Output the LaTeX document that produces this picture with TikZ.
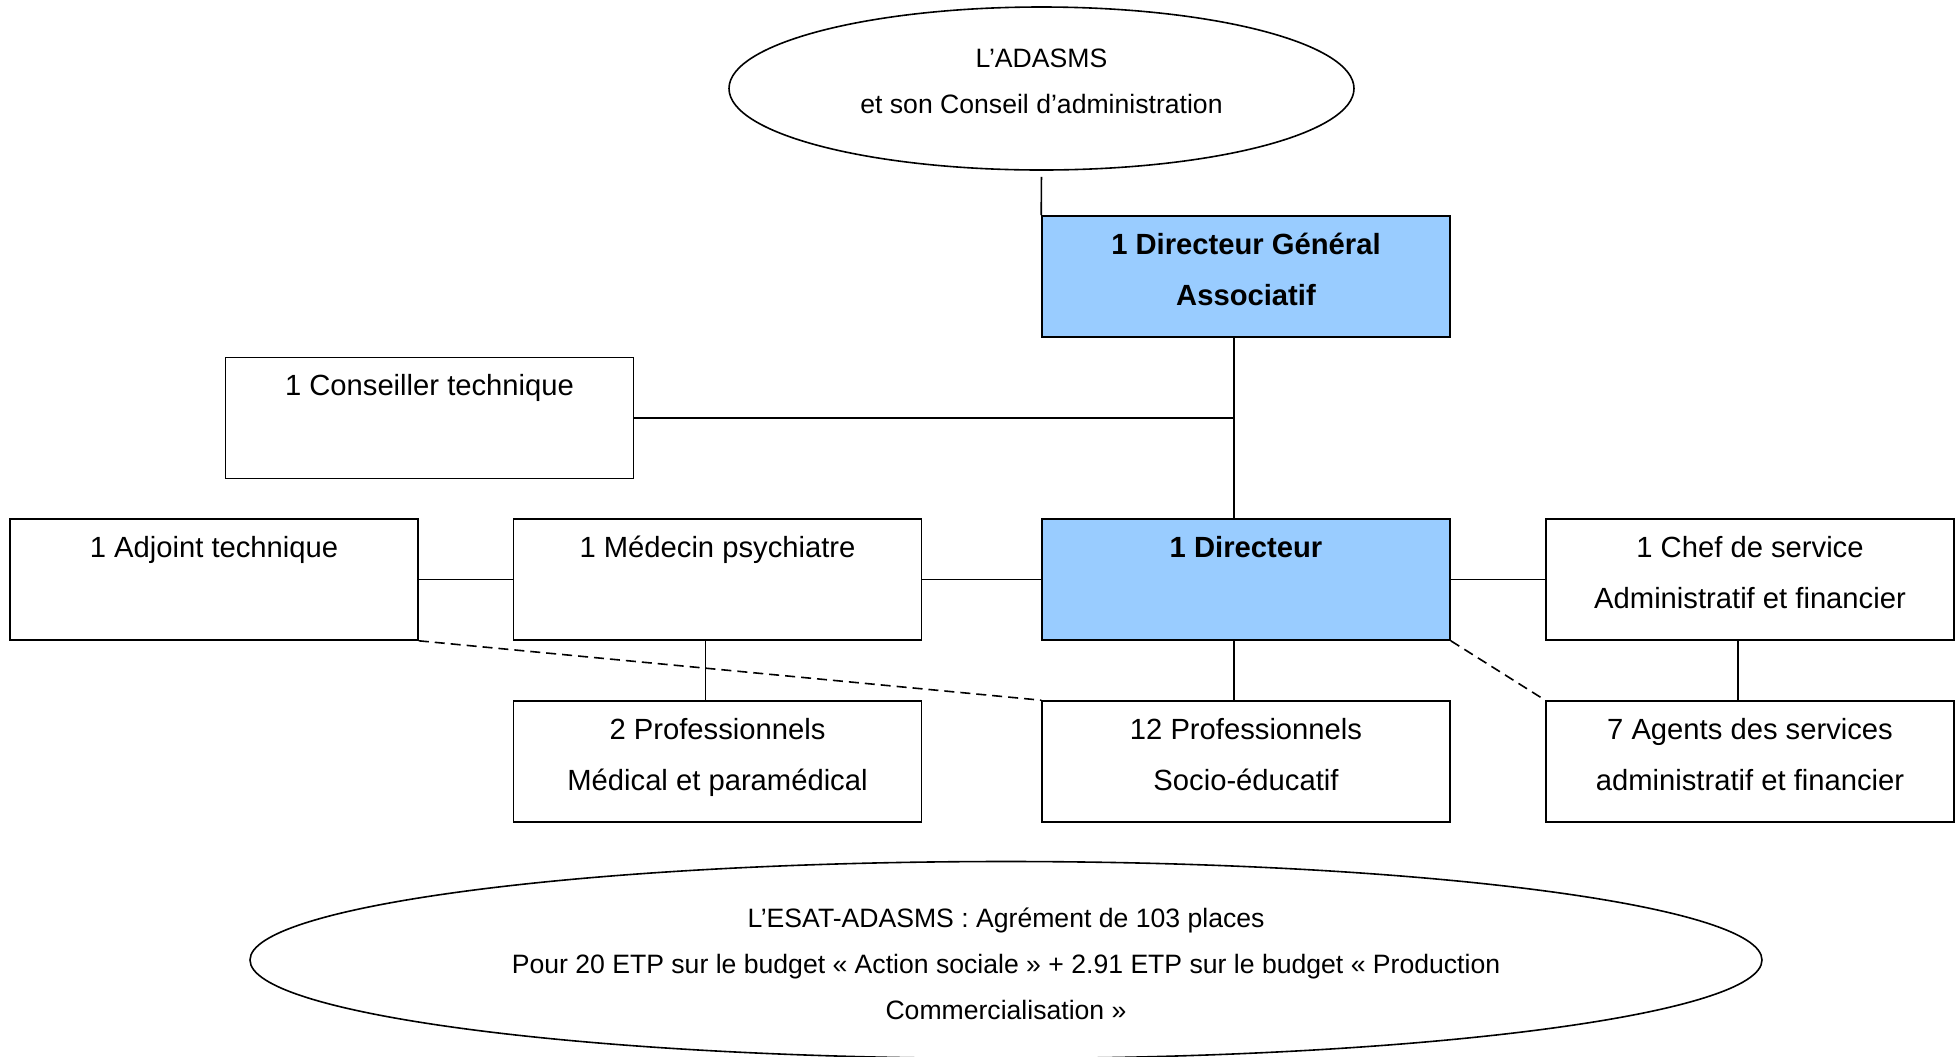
\documentclass[tikz,border=0pt]{standalone}
\usepackage{fontspec}
\setmainfont{Liberation Sans}
\usetikzlibrary{positioning,shapes.geometric}
\definecolor{dirblue}{RGB}{153,204,255}

\begin{document}
\begin{tikzpicture}[x=0.5pt,y=-0.5pt,node distance=91pt,on grid,line width=0.8pt]
            \tikzstyle{poste}=[draw,rectangle,minimum width=204pt,minimum height=60.5pt,inner sep=0pt,align=center,font=\fontsize{14.6}{25.5}\selectfont]
            \tikzstyle{direction}=[poste,fill=dirblue,font=\fontsize{14.6}{25.5}\selectfont\bfseries]
            \tikzstyle{instance}=[draw,ellipse,inner sep=0pt,align=center,font=\fontsize{13.3}{23}\selectfont]
            \tikzstyle{appui}=[dashed,dash pattern=on 5pt off 3pt]

            \useasboundingbox (0,0) rectangle (1955,1056);

            \node[instance,minimum width=312.5pt,minimum height=81.5pt] (adasms) at (1041.5,88.5) {L’ADASMS\\et son Conseil d’administration\rule[-7.5pt]{0pt}{0pt}};
            \node[direction] (dir) at (1246,579.5)         {1 Directeur\\\phantom{1}\rule[-7.5pt]{0pt}{0pt}};
            \node[direction] (dg)     [above=151.5pt of dir] {1 Directeur Général\\Associatif\rule[-7.5pt]{0pt}{0pt}};
            \node[poste]     (med)    [left=264.25pt of dir] {1 Médecin psychiatre\\\phantom{1}\rule[-7.5pt]{0pt}{0pt}};
            \node[poste]     (adj)    [left=251.75pt of med] {1 Adjoint technique\\\phantom{1}\rule[-7.5pt]{0pt}{0pt}};
            \node[poste]     (chef)   [right=252pt of dir]   {1 Chef de service\\Administratif et financier\rule[-7.5pt]{0pt}{0pt}};
            \node[poste]     (cons) at (429.5,418)          {1 Conseiller technique\\\phantom{1}\rule[-7.5pt]{0pt}{0pt}};
            \node[poste]     (pro2)   [below=of med]         {2 Professionnels\\Médical et paramédical\rule[-7.5pt]{0pt}{0pt}};
            \node[poste]     (pro12)  [below=of dir]         {12 Professionnels\\Socio-éducatif\rule[-7.5pt]{0pt}{0pt}};
            \node[poste]     (agents) [below=of chef]        {7 Agents des services\\administratif et financier\rule[-7.5pt]{0pt}{0pt}};
            \node[instance,minimum width=756pt,minimum height=98.5pt] (esat) at (1006,960) {\rule{0pt}{13.6pt}L’ESAT-ADASMS : Agrément de 103 places\\Pour 20 ETP sur le budget « Action sociale » + 2.91 ETP sur le budget « Production\\Commercialisation »};

            \coordinate (axe) at ([xshift=-6pt]dg.south);

            \path[draw]
                (adasms.south) edge [shorten <=3pt] (dg.north west)
                ([xshift=-6pt]dg.south) edge ([xshift=-6pt]dir.north)
                (cons.east) edge (cons.east -| axe)

                (adj.east) edge (med.west)
                (med.east) edge (dir.west)
                (dir.east) edge (chef.west)

                ([xshift=-6pt]med.south) edge ([xshift=-6pt]pro2.north)
                ([xshift=-6pt]dir.south) edge ([xshift=-6pt]pro12.north)
                ([xshift=-6pt]chef.south) edge ([xshift=-6pt]agents.north)

                (adj.south east) edge [appui] (pro12.north west)
                (dir.south east) edge [appui] (agents.north west)
                ;
        \end{tikzpicture}
\end{document}
